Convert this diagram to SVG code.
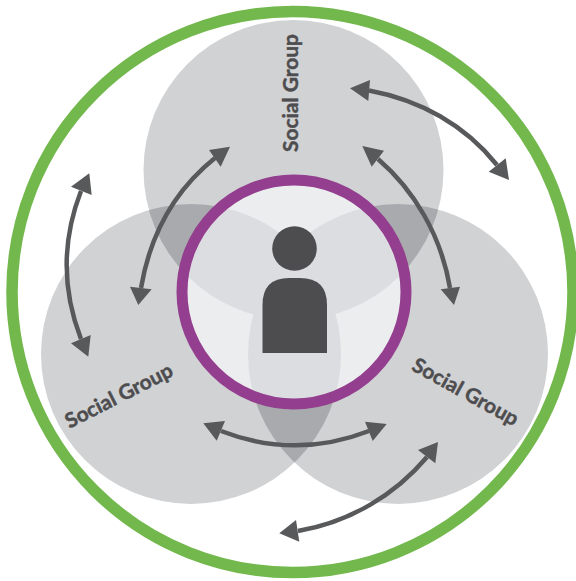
<svg xmlns="http://www.w3.org/2000/svg" width="576" height="581" viewBox="0 0 576 581">
<style>
.g{fill:#d1d2d4}
.o{fill:#a9aaad}
.i{fill:#dcdde0}
.a{fill:none;stroke:#58595b;stroke-width:4.5}
.h{fill:#58595b}
.t{font-family:"Lato","Open Sans","Liberation Sans",sans-serif;font-weight:700;font-size:20.5px;fill:#4d4d4f;stroke:#4d4d4f;stroke-width:.45px;text-anchor:middle}
</style>
<defs>
<clipPath id="ct"><circle cx="293.500" cy="170" r="150"/></clipPath>
<clipPath id="cl"><circle cx="191" cy="354" r="150"/></clipPath>
<clipPath id="cd"><circle cx="294" cy="292" r="112"/></clipPath>
</defs>
<rect width="576" height="581" fill="#fff"/>
<g id="outer-ring"><circle cx="292.500" cy="292" r="280.500" fill="none" stroke="#72b84c" stroke-width="11.500"/></g>
<g id="group-top"><circle class="g" cx="293.500" cy="170" r="150"/></g>
<g id="group-left"><circle class="g" cx="191" cy="354" r="150"/></g>
<g id="group-right"><circle class="g" cx="398" cy="354" r="150"/></g>
<g id="overlaps">
<circle class="o" cx="191" cy="354" r="150" clip-path="url(#ct)"/>
<circle class="o" cx="398" cy="354" r="150" clip-path="url(#ct)"/>
<circle class="o" cx="398" cy="354" r="150" clip-path="url(#cl)"/>
</g>
<g id="self">
<circle cx="294" cy="292" r="112" fill="#ecedee"/>
<g clip-path="url(#cd)">
<circle class="i" cx="191" cy="354" r="150" clip-path="url(#ct)"/>
<circle class="i" cx="398" cy="354" r="150" clip-path="url(#ct)"/>
<circle class="i" cx="398" cy="354" r="150" clip-path="url(#cl)"/>
</g>
<circle cx="294" cy="292" r="112" fill="none" stroke="#933e8e" stroke-width="11"/>
<circle cx="294.500" cy="248.500" r="22.300" fill="#4d4d4f"/>
<path d="M262.500 353V305Q262.500 278 289 278H300Q327 278 327 305V353Z" fill="#4d4d4f"/>
</g>
<g id="connectors">
<path class="a" d="M215 158C175 190 150 235 141 288"/>
<path class="a" d="M378 159C414 190 441 235 450 288"/>
<path class="a" d="M221 431C270 450 320 450 369 431"/>
<path class="a" d="M369 90.500C420 100 465 125 497 165"/>
<path class="a" d="M81 191C62 240 62 290 81 339"/>
<path class="a" d="M427 457C395 495 350 522 298 531"/>
<polygon class="h" points="230,146.700 209,150 220.700,166.700"/>
<polygon class="h" points="138.300,305 130,286.700 151.700,289.300"/>
<polygon class="h" points="362.300,146 384,150.700 371.700,166.700"/>
<polygon class="h" points="454,305 440.700,289.300 460,286.700"/>
<polygon class="h" points="203.300,423.300 225,421 216.700,440.700"/>
<polygon class="h" points="386.700,424 365,421.700 372.700,441"/>
<polygon class="h" points="350,88.300 370,80 368.300,101"/>
<polygon class="h" points="509,180 488.700,171.700 505.700,158.300"/>
<polygon class="h" points="438,442 418,450 435.300,463.300"/>
<polygon class="h" points="279.300,533.300 296,520 299.300,541.700"/>
<polygon class="h" points="89.300,173.300 71,186.700 91.700,195"/>
<polygon class="h" points="88.300,356.700 71,343.300 90.700,335"/>
</g>
<g id="labels">
<text class="t" transform="translate(298 93) rotate(-90)" textLength="118" lengthAdjust="spacingAndGlyphs">Social Group</text>
<text class="t" transform="translate(122 402) rotate(-27)" textLength="118" lengthAdjust="spacingAndGlyphs">Social Group</text>
<text class="t" transform="translate(462 398) rotate(29)" textLength="118" lengthAdjust="spacingAndGlyphs">Social Group</text>
</g>
</svg>
